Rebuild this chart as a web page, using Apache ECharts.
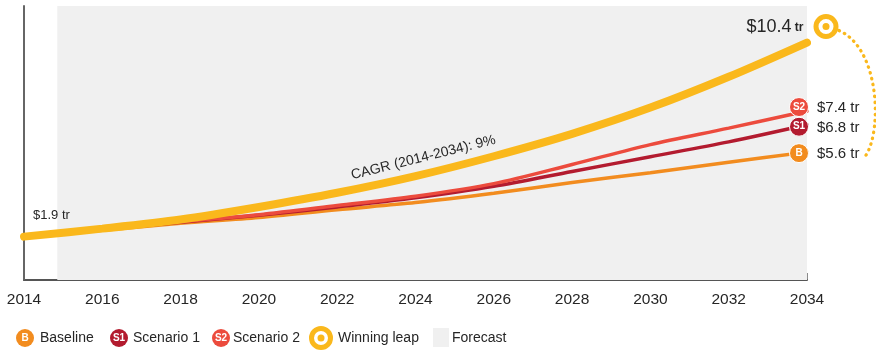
<!DOCTYPE html>
<html>
<head>
<meta charset="utf-8">
<script src="https://cdn.jsdelivr.net/npm/echarts@6/dist/echarts.min.js"></script>
<style>
  html, body { margin: 0; padding: 0; background: #fff; }
  #chart { width: 876px; height: 354px; }
</style>
</head>
<body>
<div id="chart"></div>
<script>
// Years on the x axis (every second year)
const years = [2014, 2016, 2018, 2020, 2022, 2024, 2026, 2028, 2030, 2032, 2034];
const tickLabels = ['2014', '2016', '2018', '2020', '2022', '2024', '2026', '2028', '2030', '2032', '2034'];

// Market size, trillions of dollars
const baseline    = [1.9, 2.18, 2.48, 2.74, 3.08, 3.39, 3.80, 4.27, 4.70, 5.16, 5.6];
const scenario1   = [1.9, 2.20, 2.53, 2.84, 3.20, 3.60, 4.10, 4.75, 5.40, 6.05, 6.8];
const scenario2   = [1.9, 2.20, 2.55, 2.86, 3.26, 3.67, 4.22, 5.06, 5.93, 6.65, 7.4];
const winningLeap = [1.9, 2.25, 2.65, 3.20, 3.82, 4.55, 5.42, 6.40, 7.55, 8.90, 10.4];

const forecastStart = 2014.85;
const cagrText = 'CAGR (2014-2034): 9%';

const C = {
  base: '#F28C1F',
  s1: '#B31B2F',
  s2: '#EC4B3D',
  leap: '#FAB81C',
  forecast: '#F0F0F0',
  text: '#262626'
};
const FONT = '"Liberation Sans", Arial, Helvetica, sans-serif';

function pairs(vals) {
  return vals.map((v, i) => [years[i], v]);
}

// Line with a lettered badge at its last point and a value tag after it.
// dy nudges badge and tag apart vertically so neighbouring tags stay readable.
function scenarioSeries(name, vals, color, badge, dy) {
  const data = pairs(vals);
  const last = data.length - 1;
  data[last] = {
    value: data[last],
    symbol: 'circle',
    symbolSize: 19,
    symbolOffset: [-8, dy],
    itemStyle: { color: color, borderColor: '#fff', borderWidth: 1 },
    label: {
      show: true, position: 'inside', formatter: badge,
      color: '#fff', fontSize: 10, fontWeight: 'bold', fontFamily: FONT
    }
  };
  return {
    name: name,
    type: 'line',
    data: data,
    smooth: 0.3,
    symbol: 'none',
    showSymbol: true,
    lineStyle: { color: color, width: 3.5, cap: 'round' },
    itemStyle: { color: color },
    endLabel: {
      show: true,
      distance: 10,
      offset: [0, dy + 1],
      formatter: p => '$' + p.value[1].toFixed(1) + ' tr',
      color: C.text, fontSize: 15, fontFamily: FONT
    },
    z: 3
  };
}

const chart = echarts.init(document.getElementById('chart'), null, { renderer: 'canvas' });

const leapEnd = [years[years.length - 1], winningLeap[winningLeap.length - 1]];
const ringOffset = [19, -16];

const option = {
  animation: false,
  backgroundColor: '#fff',
  grid: { left: 24, right: 69, top: 6, bottom: 74 },
  xAxis: {
    type: 'value',
    min: 2014, max: 2034, interval: 2,
    axisLine: { show: true, lineStyle: { color: '#555', width: 2 } },
    axisTick: { show: true, inside: true, length: 7, lineStyle: { color: '#666', width: 1.5 } },
    splitLine: { show: false },
    axisLabel: {
      margin: 12,
      color: C.text, fontSize: 15.5, fontFamily: FONT,
      formatter: v => tickLabels[years.indexOf(v)] || ''
    }
  },
  yAxis: {
    type: 'value',
    min: 0, max: 12,
    axisLine: { show: true, lineStyle: { color: '#666', width: 2 } },
    axisTick: { show: false },
    axisLabel: { show: false },
    splitLine: { show: false }
  },
  series: [
    {
      name: 'Forecast',
      type: 'line',
      data: [],
      markArea: {
        silent: true,
        itemStyle: { color: C.forecast },
        data: [[{ xAxis: forecastStart }, { xAxis: 2034 }]]
      },
      z: 1
    },
    scenarioSeries('Baseline', baseline, C.base, 'B', 1),
    scenarioSeries('Scenario 1', scenario1, C.s1, 'S1', 2),
    scenarioSeries('Scenario 2', scenario2, C.s2, 'S2', -4),
    {
      name: 'Winning leap',
      type: 'line',
      data: pairs(winningLeap),
      smooth: 0.3,
      symbol: 'none',
      lineStyle: { color: C.leap, width: 8, cap: 'round' },
      itemStyle: { color: C.leap },
      z: 4,
      markPoint: {
        silent: true,
        data: [
          {
            coord: leapEnd,
            symbol: 'circle', symbolSize: 20, symbolOffset: ringOffset,
            itemStyle: { color: '#fff', borderColor: C.leap, borderWidth: 5 },
            label: {
              show: true, position: 'left', distance: 10,
              formatter: '{a|$' + leapEnd[1].toFixed(1) + '} {b|tr}',
              rich: {
                a: { fontSize: 18, color: C.text, fontFamily: FONT },
                b: { fontSize: 12, color: C.text, fontFamily: FONT, fontWeight: 'bold', padding: [2, 0, 0, 0] }
              }
            }
          },
          {
            coord: leapEnd,
            symbol: 'circle', symbolSize: 7, symbolOffset: ringOffset,
            itemStyle: { color: C.leap },
            label: { show: false }
          },
          {
            coord: [years[0], winningLeap[0]],
            symbol: 'circle', symbolSize: 0,
            itemStyle: { color: 'transparent' },
            label: {
              show: true, position: 'right', offset: [4, -21],
              formatter: '$' + winningLeap[0].toFixed(1) + ' tr',
              color: C.text, fontSize: 13, fontFamily: FONT
            }
          },
          {
            coord: [2024.2, 5.36],
            symbol: 'circle', symbolSize: 0,
            itemStyle: { color: 'transparent' },
            label: {
              show: true, position: 'inside', rotate: 14,
              formatter: cagrText,
              color: C.text, fontSize: 14, fontFamily: FONT
            }
          }
        ]
      }
    }
  ]
};

chart.setOption(option);

// Dotted bracket linking the winning-leap ring to the baseline tag
const ringPx = chart.convertToPixel({ gridIndex: 0 }, leapEnd);
const basePx = chart.convertToPixel({ gridIndex: 0 }, [years[years.length - 1], baseline[baseline.length - 1]]);
const rc = [ringPx[0] + ringOffset[0], ringPx[1] + ringOffset[1]];
const bracketEnd = [basePx[0] + 59, basePx[1] + 3];

// Legend row
const legendY = 338;
function badge(x, color, letter) {
  return [
    { type: 'circle', shape: { cx: x, cy: legendY, r: 9 }, style: { fill: color } },
    { type: 'text', x: x, y: legendY, style: {
        text: letter, fill: '#fff', fontSize: 10, fontWeight: 'bold', fontFamily: FONT,
        align: 'center', verticalAlign: 'middle' } }
  ];
}
function legendText(x, t) {
  return { type: 'text', x: x, y: legendY, style: {
    text: t, fill: C.text, fontSize: 14, fontFamily: FONT, verticalAlign: 'middle' } };
}

chart.setOption({
  graphic: [
    {
      type: 'bezierCurve',
      shape: {
        x1: rc[0] + 13, y1: rc[1] + 4,
        cpx1: rc[0] + 54, cpy1: rc[1] + 22,
        cpx2: bracketEnd[0] + 16, cpy2: bracketEnd[1] - 25,
        x2: bracketEnd[0], y2: bracketEnd[1]
      },
      style: { stroke: C.leap, lineWidth: 3.2, lineDash: [0.5, 5.5], lineCap: 'round', fill: null },
      silent: true
    },
    ...badge(25, C.base, 'B'),
    legendText(40, 'Baseline'),
    ...badge(119, C.s1, 'S1'),
    legendText(133, 'Scenario 1'),
    ...badge(221, C.s2, 'S2'),
    legendText(233, 'Scenario 2'),
    { type: 'circle', shape: { cx: 321, cy: legendY, r: 9.5 }, style: { fill: '#fff', stroke: C.leap, lineWidth: 5 } },
    { type: 'circle', shape: { cx: 321, cy: legendY, r: 3.5 }, style: { fill: C.leap } },
    legendText(338, 'Winning leap'),
    { type: 'rect', shape: { x: 433, y: 328, width: 16, height: 19 }, style: { fill: C.forecast } },
    legendText(452, 'Forecast')
  ]
});
</script>
</body>
</html>
